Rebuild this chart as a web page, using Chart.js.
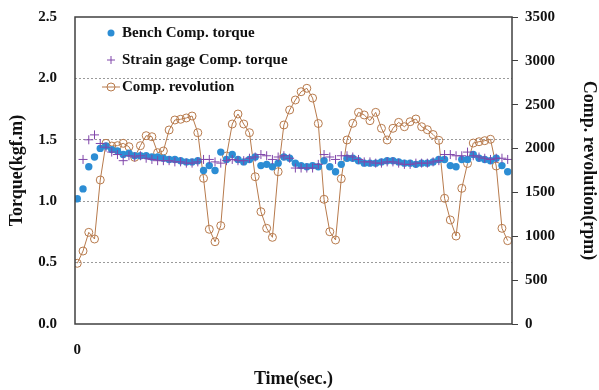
<!DOCTYPE html>
<html>
<head>
<meta charset="utf-8">
<script src="https://cdn.jsdelivr.net/npm/chart.js@4.4.1/dist/chart.umd.min.js"></script>
<style>
  html, body { margin: 0; padding: 0; background: #fff; }
  #wrap { width: 599px; height: 390px; }
</style>
</head>
<body>
<div id="wrap"><canvas id="chart_comp"></canvas></div>
<script>
// values, one per sample
const benchTorque = [1.02, 1.10, 1.28, 1.36, 1.43, 1.45, 1.42, 1.41, 1.38, 1.39,
    1.37, 1.37, 1.37, 1.36, 1.36, 1.35, 1.34, 1.34, 1.33, 1.32,
    1.32, 1.33, 1.25, 1.29, 1.25, 1.40, 1.34, 1.38, 1.34, 1.32,
    1.34, 1.36, 1.29, 1.30, 1.28, 1.31, 1.36, 1.35, 1.31, 1.29,
    1.28, 1.29, 1.28, 1.33, 1.28, 1.24, 1.30, 1.35, 1.35, 1.33,
    1.31, 1.31, 1.31, 1.32, 1.33, 1.33, 1.32, 1.31, 1.31, 1.30,
    1.31, 1.31, 1.32, 1.34, 1.34, 1.29, 1.28, 1.34, 1.34, 1.38,
    1.35, 1.34, 1.33, 1.35, 1.29, 1.24];
const strainTorque = [null, 1.34, 1.50, 1.54, 1.47, 1.44, 1.40, 1.38, 1.33, 1.37,
    1.36, 1.37, 1.35, 1.34, 1.33, 1.33, 1.33, 1.32, 1.32, 1.31,
    1.31, 1.32, 1.34, 1.34, 1.32, 1.31, 1.33, 1.34, 1.33, 1.33,
    1.35, 1.36, 1.38, 1.37, 1.34, 1.36, 1.37, 1.35, 1.27, 1.27,
    1.27, 1.27, 1.30, 1.38, 1.36, 1.34, 1.37, 1.37, 1.36, 1.34,
    1.32, 1.32, 1.31, 1.31, 1.32, 1.32, 1.31, 1.30, 1.30, 1.31,
    1.31, 1.31, 1.32, 1.33, 1.38, 1.38, 1.37, 1.37, 1.40, 1.37,
    1.36, 1.35, 1.34, 1.35, 1.35, 1.34];
const compRevolution = [692, 832, 1045, 969, 1642, 2060, 2029, 2033, 2060, 2021,
    1900, 2033, 2147, 2135, 1953, 1972, 2212, 2326, 2334, 2349,
    2371, 2181, 1661, 1080, 938, 1121, 1915, 2280, 2394, 2280,
    2181, 1679, 1280, 1091, 988, 1736, 2269, 2440, 2554, 2648,
    2687, 2576, 2286, 1422, 1052, 958, 1656, 2098, 2288, 2413,
    2383, 2318, 2413, 2231, 2098, 2231, 2299, 2249, 2306, 2337,
    2249, 2215, 2160, 2094, 1433, 1186, 1003, 1547, 1830, 2063,
    2078, 2090, 2106, 1801, 1091, 950];
const timeTicks = [0];
const torqueTicks = [0, 0.5, 1.0, 1.5, 2.0, 2.5];
const rpmTicks = [0, 500, 1000, 1500, 2000, 2500, 3000, 3500];

const sample = benchTorque.map((v, i) => i);
const pts = arr => arr.map((v, i) => ({ x: sample[i], y: v }));

const serif = "'Liberation Serif', 'Times New Roman', serif";
const blue = "rgb(44, 141, 212)";
const purple = "rgb(128, 70, 170)";
const brown = "rgb(183, 122, 76)";

// box round the plot and the legend inside it
const frame = {
    id: "frame",
    afterDraw(chart) {
        const c = chart.ctx, a = chart.chartArea;
        c.save();
        c.strokeStyle = "#404040";
        c.lineWidth = 1.5;
        c.strokeRect(a.left, a.top, a.right - a.left, a.bottom - a.top);

        c.font = "bold 15px " + serif;
        c.textBaseline = "middle";
        const mx = 111, tx = 122;
        // bench
        c.beginPath();
        c.fillStyle = blue;
        c.arc(mx, 33, 3.5, 0, Math.PI * 2);
        c.fill();
        c.fillStyle = "#111";
        c.fillText("Bench Comp. torque", tx, 33);
        // strain gage
        c.strokeStyle = purple;
        c.lineWidth = 1;
        c.beginPath();
        c.moveTo(mx - 4, 60); c.lineTo(mx + 4, 60);
        c.moveTo(mx, 56); c.lineTo(mx, 64);
        c.stroke();
        c.fillText("Strain gage Comp. torque", tx, 60);
        // revolution
        c.strokeStyle = brown;
        c.beginPath();
        c.moveTo(mx - 9, 87); c.lineTo(mx + 9, 87);
        c.stroke();
        c.beginPath();
        c.arc(mx, 87, 4, 0, Math.PI * 2);
        c.stroke();
        c.fillText("Comp. revolution", tx, 87);
        c.restore();
    }
};

const config = {
    type: "scatter",
    data: {
        datasets: [
            {
                label: "Bench Comp. torque",
                data: pts(benchTorque),
                backgroundColor: blue,
                borderColor: blue,
                pointRadius: 3.7,
                pointBorderWidth: 0,
                showLine: false,
                yAxisID: "y",
                order: 1,
            },
            {
                label: "Strain gage Comp. torque",
                data: pts(strainTorque),
                pointStyle: "cross",
                borderColor: purple,
                pointRadius: 4.5,
                pointBorderWidth: 1,
                showLine: false,
                yAxisID: "y",
                order: 0,
            },
            {
                label: "Comp. revolution",
                data: pts(compRevolution),
                borderColor: brown,
                backgroundColor: "rgba(0,0,0,0)",
                borderWidth: 1,
                pointRadius: 4,
                pointBorderWidth: 1,
                showLine: true,
                tension: 0,
                yAxisID: "y1",
                order: 2,
            },
        ],
    },
    options: {
        responsive: true,
        maintainAspectRatio: false,
        animation: false,
        devicePixelRatio: 1,
        layout: { padding: { top: 17, left: 0, right: 0, bottom: 0 } },
        plugins: { legend: { display: false }, tooltip: { enabled: false } },
        scales: {
            x: {
                type: "linear",
                min: -0.4,
                max: 75.75,
                afterBuildTicks: s => { s.ticks = timeTicks.map(v => ({ value: v })); },
                afterFit: s => { s.height = 66; s.paddingLeft = 0; s.paddingRight = 0; },
                grid: { display: false },
                border: { display: false },
                ticks: { color: "#111", font: { family: serif, size: 15, weight: "bold" }, padding: 9 },
                title: { display: true, text: "Time(sec.)", color: "#111",
                    font: { family: serif, size: 18, weight: "bold" }, padding: { top: 8, bottom: 0 } },
            },
            y: {
                type: "linear",
                position: "left",
                min: 0,
                max: 2.5,
                afterBuildTicks: s => { s.ticks = torqueTicks.map(v => ({ value: v })); },
                afterFit: s => { s.width = 75; s.paddingTop = 0; s.paddingBottom = 0; },
                grid: {
                    drawTicks: false,
                    color: ctx => (ctx.tick.value > 0 && ctx.tick.value < 2.5) ? "#9a9a9a" : "rgba(0,0,0,0)",
                    lineWidth: 1,
                },
                border: { display: false, dash: [2, 2] },
                ticks: { color: "#111", font: { family: serif, size: 15, weight: "bold" }, padding: 18,
                    callback: v => v.toFixed(1) },
                title: { display: true, text: "Torque(kgf.m)", color: "#111",
                    font: { family: serif, size: 18, weight: "bold" }, padding: { top: 7, bottom: 0 } },
            },
            y1: {
                type: "linear",
                position: "right",
                min: 0,
                max: 3500,
                afterBuildTicks: s => { s.ticks = rpmTicks.map(v => ({ value: v })); },
                afterFit: s => { s.width = 87; s.paddingTop = 0; s.paddingBottom = 0; },
                grid: { drawOnChartArea: false, drawTicks: true, tickLength: 6, color: "#404040", lineWidth: 1 },
                border: { display: false },
                ticks: { color: "#111", font: { family: serif, size: 15, weight: "bold" }, padding: 7,
                    callback: v => String(v) },
                title: { display: true, text: "Comp. revolution(rpm)", color: "#111",
                    font: { family: serif, size: 18, weight: "bold" }, padding: { top: 0, bottom: 4 } },
            },
        },
    },
    plugins: [frame],
};

const ctxComp = document.getElementById("chart_comp");
const compChart = new Chart(ctxComp, config);
</script>
</body>
</html>
